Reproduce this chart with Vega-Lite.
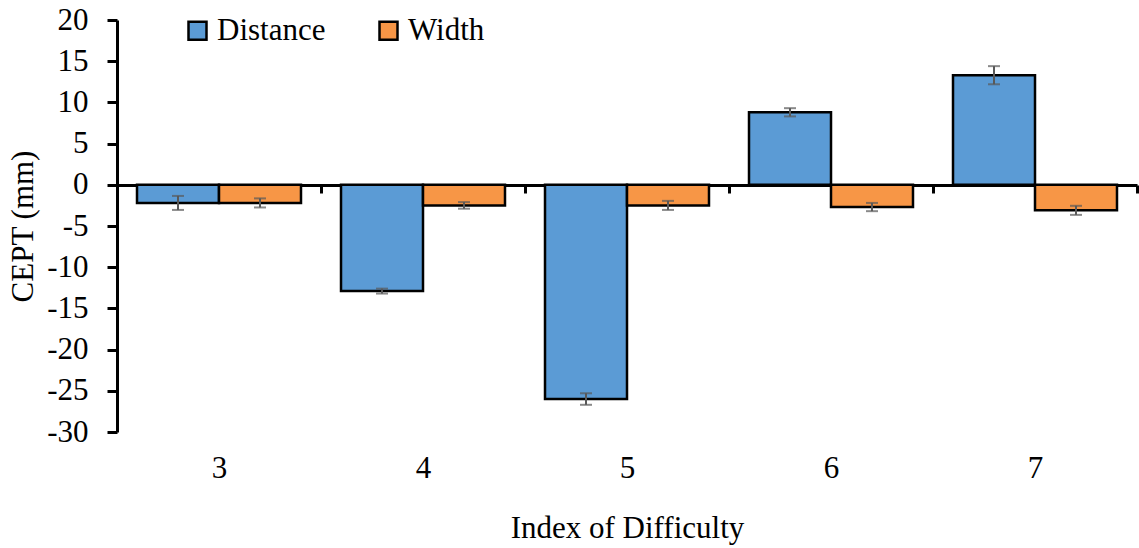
{
  "$schema": "https://vega.github.io/schema/vega-lite/v6.json",
  "width": 1020,
  "height": 412,
  "autosize": "none",
  "padding": {"left": 117, "top": 20, "right": 2, "bottom": 116},
  "background": "white",
  "config": {
    "view": {"stroke": null},
    "font": "Times New Roman, Liberation Serif, serif",
    "axis": {"labelFont": "Times New Roman, Liberation Serif, serif", "titleFont": "Times New Roman, Liberation Serif, serif", "labelFontSize": 31, "titleFontSize": 31, "titleFontWeight": "normal", "labelColor": "black", "titleColor": "black", "domainColor": "black", "tickColor": "black", "grid": false},
    "legend": {"labelFont": "Times New Roman, Liberation Serif, serif", "labelFontSize": 31, "labelColor": "black"}
  },
  "data": {
    "values": [
      {"id": "3", "series": "Distance", "value": -2.2, "lo": -3.05, "hi": -1.35},
      {"id": "3", "series": "Width", "value": -2.2, "lo": -2.75, "hi": -1.65},
      {"id": "4", "series": "Distance", "value": -12.9, "lo": -13.2, "hi": -12.6},
      {"id": "4", "series": "Width", "value": -2.5, "lo": -2.9, "hi": -2.1},
      {"id": "5", "series": "Distance", "value": -26.0, "lo": -26.7, "hi": -25.3},
      {"id": "5", "series": "Width", "value": -2.5, "lo": -3.05, "hi": -1.95},
      {"id": "6", "series": "Distance", "value": 8.8, "lo": 8.3, "hi": 9.3},
      {"id": "6", "series": "Width", "value": -2.7, "lo": -3.2, "hi": -2.2},
      {"id": "7", "series": "Distance", "value": 13.3, "lo": 12.2, "hi": 14.4},
      {"id": "7", "series": "Width", "value": -3.1, "lo": -3.65, "hi": -2.55}
    ]
  },
  "encoding": {
    "x": {
      "field": "id", "type": "nominal", "sort": null,
      "scale": {"paddingInner": 0, "paddingOuter": 0},
      "axis": {"title": "Index of Difficulty", "labelAngle": 0, "offset": -247, "tickBand": "extent", "tickSize": 8, "tickWidth": 3, "domainWidth": 3, "labelPadding": 260, "titlePadding": 128}
    },
    "xOffset": {"field": "series", "type": "nominal", "scale": {"paddingInner": 0, "paddingOuter": 0.244}}
  },
  "layer": [
    {
      "mark": {"type": "bar", "stroke": "black", "strokeWidth": 2.5},
      "encoding": {
        "y": {
          "field": "value", "type": "quantitative",
          "scale": {"domain": [-30, 20], "nice": false, "zero": false},
          "axis": {"title": "CEPT (mm)", "values": [-30, -25, -20, -15, -10, -5, 0, 5, 10, 15, 20], "labelExpr": "'' + datum.value", "tickSize": 10, "tickWidth": 3, "domainWidth": 3, "labelPadding": 19, "titlePadding": 7}
        },
        "color": {
          "field": "series", "type": "nominal",
          "scale": {"domain": ["Distance", "Width"], "range": ["#5B9BD5", "#F79646"]},
          "legend": {"title": null, "orient": "none", "legendX": 65, "legendY": -5, "direction": "horizontal", "symbolType": "square", "symbolSize": 324, "symbolStrokeColor": "black", "symbolStrokeWidth": 2.5, "symbolOpacity": 1, "labelOffset": 4, "columnPadding": 47}
        }
      }
    },
    {
      "mark": {"type": "rule", "color": "#595959", "strokeWidth": 2},
      "encoding": {"y": {"field": "lo", "type": "quantitative"}, "y2": {"field": "hi"}}
    },
    {
      "mark": {"type": "tick", "color": "#595959", "thickness": 2, "size": 12, "orient": "horizontal"},
      "encoding": {"y": {"field": "lo", "type": "quantitative"}}
    },
    {
      "mark": {"type": "tick", "color": "#595959", "thickness": 2, "size": 12, "orient": "horizontal"},
      "encoding": {"y": {"field": "hi", "type": "quantitative"}}
    }
  ]
}
